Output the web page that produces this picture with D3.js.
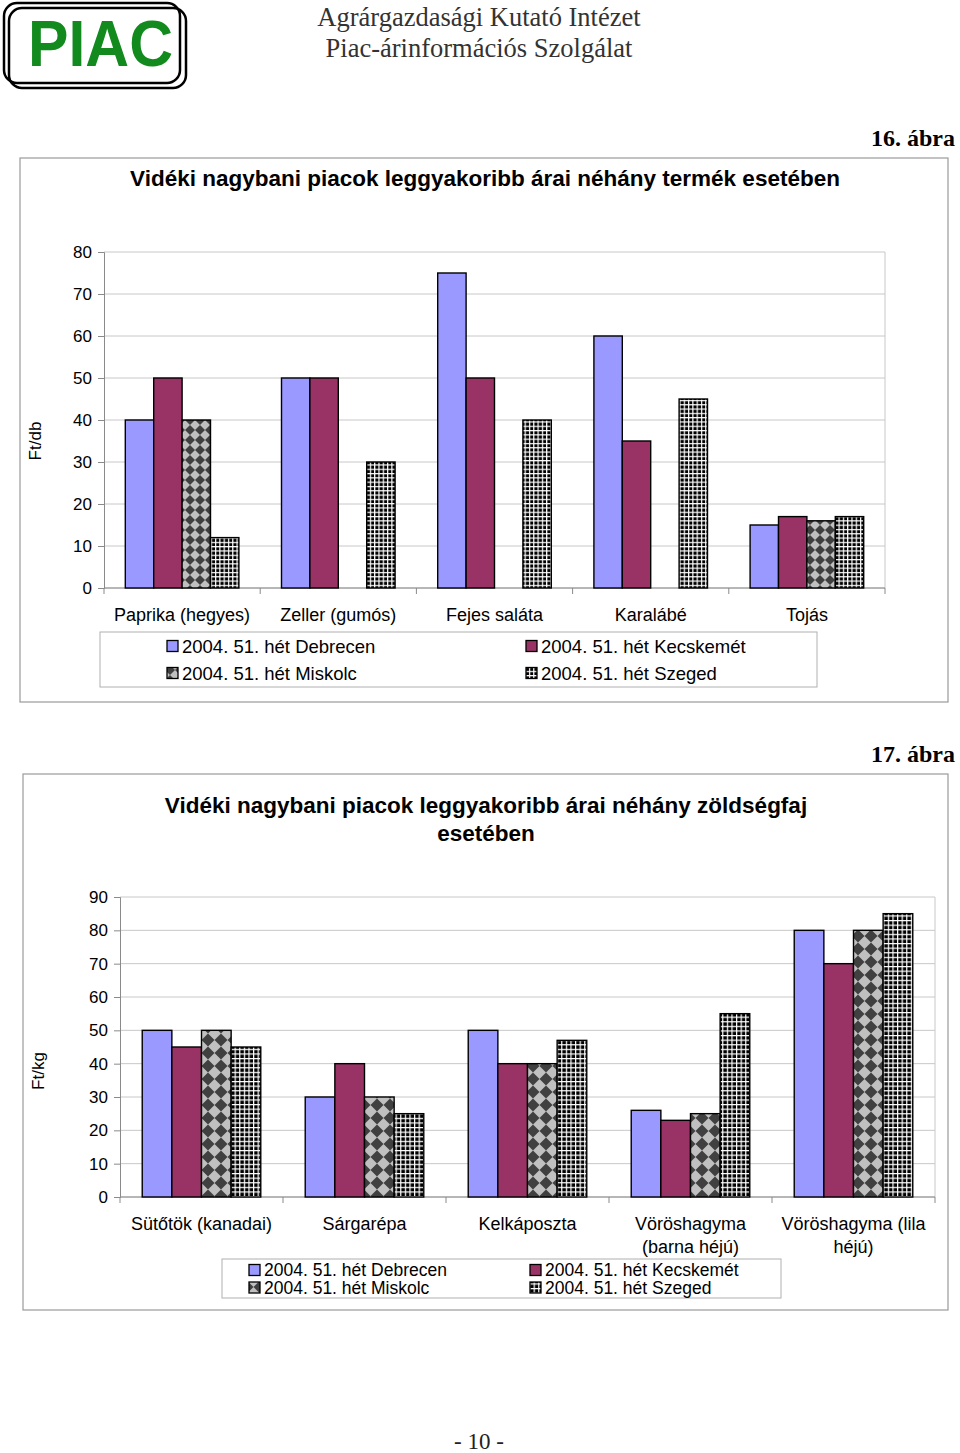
<!DOCTYPE html>
<html><head><meta charset="utf-8">
<script src="https://cdn.jsdelivr.net/npm/d3@7"></script>
<style>body{margin:0;background:#fff}svg{display:block}</style>
</head><body>
<script>
// ---------- DATA ----------
const series = ["2004. 51. hét Debrecen","2004. 51. hét Kecskemét","2004. 51. hét Miskolc","2004. 51. hét Szeged"];

const cats1 = ["Paprika (hegyes)","Zeller (gumós)","Fejes saláta","Karalábé","Tojás"];
const debrecen1  = [40,50,75,60,15];
const kecskemet1 = [50,50,50,35,17];
const miskolc1   = [40,null,null,null,16];
const szeged1    = [12,30,40,45,17];
const ticks1 = [0,10,20,30,40,50,60,70,80];

const cats2 = [["Sütőtök (kanadai)"],["Sárgarépa"],["Kelkáposzta"],["Vöröshagyma","(barna héjú)"],["Vöröshagyma (lila","héjú)"]];
const debrecen2  = [50,30,50,26,80];
const kecskemet2 = [45,40,40,23,70];
const miskolc2   = [50,30,40,25,80];
const szeged2    = [45,25,47,55,85];
const ticks2 = [0,10,20,30,40,50,60,70,80,90];

// ---------- DRAW ----------
const W=960,H=1453;
const svg=d3.select("body").append("svg").attr("width",W).attr("height",H);
const defs=svg.append("defs");
const SANS="'Liberation Sans', Arial, sans-serif", SERIF="'Liberation Serif','Times New Roman',serif";

function diamondPattern(id,w){
  const p=defs.append("pattern").attr("id",id).attr("patternUnits","userSpaceOnUse").attr("width",w).attr("height",w);
  p.append("rect").attr("width",w).attr("height",w).attr("fill","#404040");
  p.append("path").attr("d",`M${w/2},0L${w},${w/2}L${w/2},${w}L0,${w/2}Z`).attr("fill","#c0c0c0");
}
function gridPattern(id,w){
  const p=defs.append("pattern").attr("id",id).attr("patternUnits","userSpaceOnUse").attr("width",w).attr("height",w);
  p.append("rect").attr("width",w).attr("height",w).attr("fill","#000");
  p.append("rect").attr("x",0).attr("y",0).attr("width",w).attr("height",1.2).attr("fill","#fff");
  p.append("rect").attr("x",0).attr("y",0).attr("width",1.2).attr("height",w).attr("fill","#fff");
}
diamondPattern("dia1",10); diamondPattern("dia2",13);
gridPattern("grid1",4.3); gridPattern("grid2",4.6);

// Header
const logo=svg.append("g");
logo.append("rect").attr("x",4).attr("y",3).attr("width",176).attr("height",80).attr("rx",13).attr("fill","none").attr("stroke","#000").attr("stroke-width",2.5);
logo.append("rect").attr("x",9).attr("y",8).attr("width",177).attr("height",80).attr("rx",13).attr("fill","none").attr("stroke","#000").attr("stroke-width",2.5);
logo.append("text").attr("x",28).attr("y",66).attr("font-family",SANS).attr("font-weight","bold").attr("font-size",65)
  .attr("fill","#128a1e").attr("textLength",145).attr("lengthAdjust","spacingAndGlyphs").text("PIAC");
svg.append("text").attr("x",479).attr("y",26).attr("text-anchor","middle").attr("font-family",SERIF).attr("font-size",26.5).attr("fill","#333").text("Agrárgazdasági Kutató Intézet");
svg.append("text").attr("x",479).attr("y",57).attr("text-anchor","middle").attr("font-family",SERIF).attr("font-size",26.5).attr("fill","#333").text("Piac-árinformációs Szolgálat");
svg.append("text").attr("x",479).attr("y",1449).attr("text-anchor","middle").attr("font-family",SERIF).attr("font-size",23).attr("fill","#222").text("- 10 -");

const colors=["#9999ff","#993366"];
function chart(o){
  const g=svg.append("g");
  g.append("text").attr("x",955).attr("y",o.figY).attr("text-anchor","end").attr("font-family",SERIF).attr("font-weight","bold").attr("font-size",24).text(o.fig);
  g.append("rect").attr("x",o.frame[0]).attr("y",o.frame[1]).attr("width",o.frame[2]-o.frame[0]).attr("height",o.frame[3]-o.frame[1]).attr("fill","none").attr("stroke","#9a9a9a").attr("stroke-width",1.2);
  o.title.forEach((t,i)=>g.append("text").attr("x",o.titleX).attr("y",o.titleY+i*28).attr("text-anchor","middle").attr("font-family",SANS).attr("font-weight","bold").attr("font-size",22.5).text(t));
  const y=d3.scaleLinear().domain([0,o.max]).range([o.y0,o.y1]);
  const x=d3.scaleBand().domain(d3.range(o.cats.length)).range([o.x0,o.x1]);
  const bw=x.bandwidth()/5.5;
  const xs=d3.scaleBand().domain(d3.range(4)).range([0,bw*4]);
  const off=(x.bandwidth()-bw*4)/2;
  // grid
  g.selectAll(".gl").data(o.ticks).join("line").attr("x1",o.x0).attr("x2",o.x1).attr("y1",d=>y(d)).attr("y2",d=>y(d)).attr("stroke","#c8c8c8").attr("stroke-width",1);
  g.append("line").attr("x1",o.x1).attr("x2",o.x1).attr("y1",o.y1).attr("y2",o.y0).attr("stroke","#c8c8c8");
  // y axis
  const ya=g.append("g").attr("transform",`translate(${o.x0},0)`).call(d3.axisLeft(y).tickValues(o.ticks).tickSize(6).tickPadding(6));
  ya.select(".domain").attr("stroke","#8a8a8a");
  ya.selectAll(".tick line").attr("stroke","#8a8a8a");
  ya.selectAll("text").attr("font-family",SANS).attr("font-size",17).attr("fill","#000");
  // x axis
  const xa=g.append("g").attr("transform",`translate(0,${o.y0})`);
  xa.append("line").attr("x1",o.x0).attr("x2",o.x1).attr("stroke","#8a8a8a");
  xa.selectAll(".t").data(d3.range(o.cats.length+1)).join("line").attr("x1",i=>o.x0+i*x.step()).attr("x2",i=>o.x0+i*x.step()).attr("y1",0).attr("y2",6).attr("stroke","#8a8a8a");
  o.cats.forEach((c,i)=>{
    const lines=Array.isArray(c)?c:[c];
    lines.forEach((l,j)=>xa.append("text").attr("x",x(i)+x.bandwidth()/2).attr("y",o.catDy+j*23).attr("text-anchor","middle").attr("font-family",SANS).attr("font-size",18).text(l));
  });
  // axis title
  g.append("text").attr("transform",`translate(${o.axX},${o.axY}) rotate(-90)`).attr("text-anchor","middle").attr("font-family",SANS).attr("font-size",17).text(o.axTitle);
  // bars
  const fills=[colors[0],colors[1],`url(#${o.dia})`,`url(#${o.grid})`];
  o.data.forEach((arr,s)=>{
    g.selectAll(".b"+s).data(arr.map((v,i)=>({v,i})).filter(d=>d.v!=null)).join("rect")
      .attr("x",d=>x(d.i)+off+xs(s)).attr("width",xs.bandwidth()).attr("y",d=>y(d.v)).attr("height",d=>y(0)-y(d.v))
      .attr("fill",fills[s]).attr("stroke","#000").attr("stroke-width",1.4);
  });
  // legend
  const L=o.leg;
  g.append("rect").attr("x",L.x).attr("y",L.y).attr("width",L.w).attr("height",L.h).attr("fill","#fff").attr("stroke","#b0b0b0");
  series.forEach((s,i)=>{
    const col=i%2, row=Math.floor(i/2);
    const sx=L.sx[col], cy=L.rows[row];
    g.append("rect").attr("x",sx).attr("y",cy-5.5).attr("width",11).attr("height",11).attr("fill",fills[i]).attr("stroke","#000").attr("stroke-width",1.3);
    g.append("text").attr("x",sx+15).attr("y",cy+L.fs*0.36).attr("font-family",SANS).attr("font-size",L.fs).text(s);
  });
}

chart({fig:"16. ábra",figY:146,frame:[20,158,948,702],title:["Vidéki nagybani piacok leggyakoribb árai néhány termék esetében"],titleX:485,titleY:186,
  max:80,ticks:ticks1,y0:588,y1:252,x0:104,x1:885,cats:cats1,catDy:33,axTitle:"Ft/db",axX:41,axY:441,
  data:[debrecen1,kecskemet1,miskolc1,szeged1],dia:"dia1",grid:"grid1",
  leg:{x:100,y:632,w:717,h:55,sx:[167,526],rows:[646,673],fs:18.5}});

chart({fig:"17. ábra",figY:762,frame:[23,774,948,1310],title:["Vidéki nagybani piacok leggyakoribb árai néhány zöldségfaj","esetében"],titleX:486,titleY:813,
  max:90,ticks:ticks2,y0:1197,y1:897,x0:120,x1:935,cats:cats2,catDy:33,axTitle:"Ft/kg",axX:44,axY:1071,
  data:[debrecen2,kecskemet2,miskolc2,szeged2],dia:"dia2",grid:"grid2",
  leg:{x:222,y:1259,w:559,h:39,sx:[249,530],rows:[1270,1287.5],fs:17.5}});
</script>
</body></html>
